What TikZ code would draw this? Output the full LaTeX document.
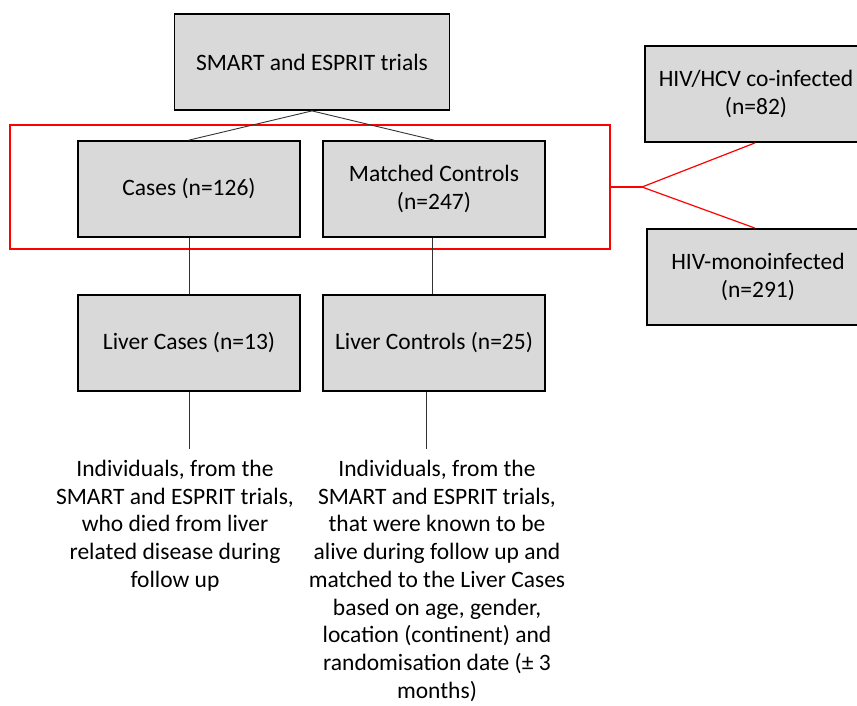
\documentclass[tikz,border=0pt]{standalone}
\usepackage{fontspec}
\setmainfont{Carlito}
\begin{document}
\begin{tikzpicture}[x=1pt,y=-1pt,
  box/.style={draw=black,line width=1.8pt,fill=boxgray,minimum width=222pt,minimum height=96pt,align=center,font=\fontsize{23.5}{28}\selectfont,inner sep=0pt},
  desc/.style={align=center,font=\fontsize{23.5}{27.7}\selectfont,inner sep=0pt,anchor=north},
  conn/.style={draw=black!80,line width=0.9pt},
  redl/.style={draw=red,line width=1.6pt}]
\definecolor{boxgray}{HTML}{D9D9D9}
\useasboundingbox (0,0) rectangle (857,705);
\clip (0,0) rectangle (857,705);
\node[box,minimum width=275pt] (smart) at (312,62) {SMART and ESPRIT trials};
\node[box] (cases) at (189,189) {Cases (n=126)};
\node[box] (matched) at (434,189) {Matched Controls\\(n=247)};
\node[box] (lcases) at (189,343) {Liver Cases (n=13)};
\node[box] (lcontrols) at (434,343) {Liver Controls (n=25)};
\node[box] (hcv) at (756,94) {HIV/HCV co-infected\\(n=82)};
\node[box] (mono) at (758,277) {HIV-monoinfected\\(n=291)};
\node[draw=red,line width=1.6pt,minimum width=600pt,minimum height=124pt,inner sep=0pt] (group) at (310,187) {};
\draw[conn] (smart.south) -- (cases.north);
\draw[conn] (smart.south) -- (matched.north);
\draw[conn] (cases.south) -- (lcases.north);
\draw[conn] (matched.south -| 432,0) -- (lcontrols.north -| 432,0);
\coordinate (e1) at (189,449);
\coordinate (e2) at (426,449);
\draw[conn] (lcases.south) -- (e1);
\draw[conn] (lcontrols.south -| e2) -- (e2);
\node[desc] (d1) at (175,460) {Individuals, from the\\SMART and ESPRIT trials,\\who died from liver\\related disease during\\follow up};
\node[desc] (d2) at (437,460) {Individuals, from the\\SMART and ESPRIT trials,\\that were known to be\\alive during follow up and\\matched to the Liver Cases\\based on age, gender,\\location (continent) and\\randomisation date (± 3\\months)};
\coordinate (br) at (642,187);
\draw[redl] (group.east) -- (br);
\draw[redl,line width=1.2pt] (br) -- (hcv.south -| 755,0);
\draw[redl,line width=1.2pt] (br) -- (mono.north -| 755,0);
\end{tikzpicture}
\end{document}
